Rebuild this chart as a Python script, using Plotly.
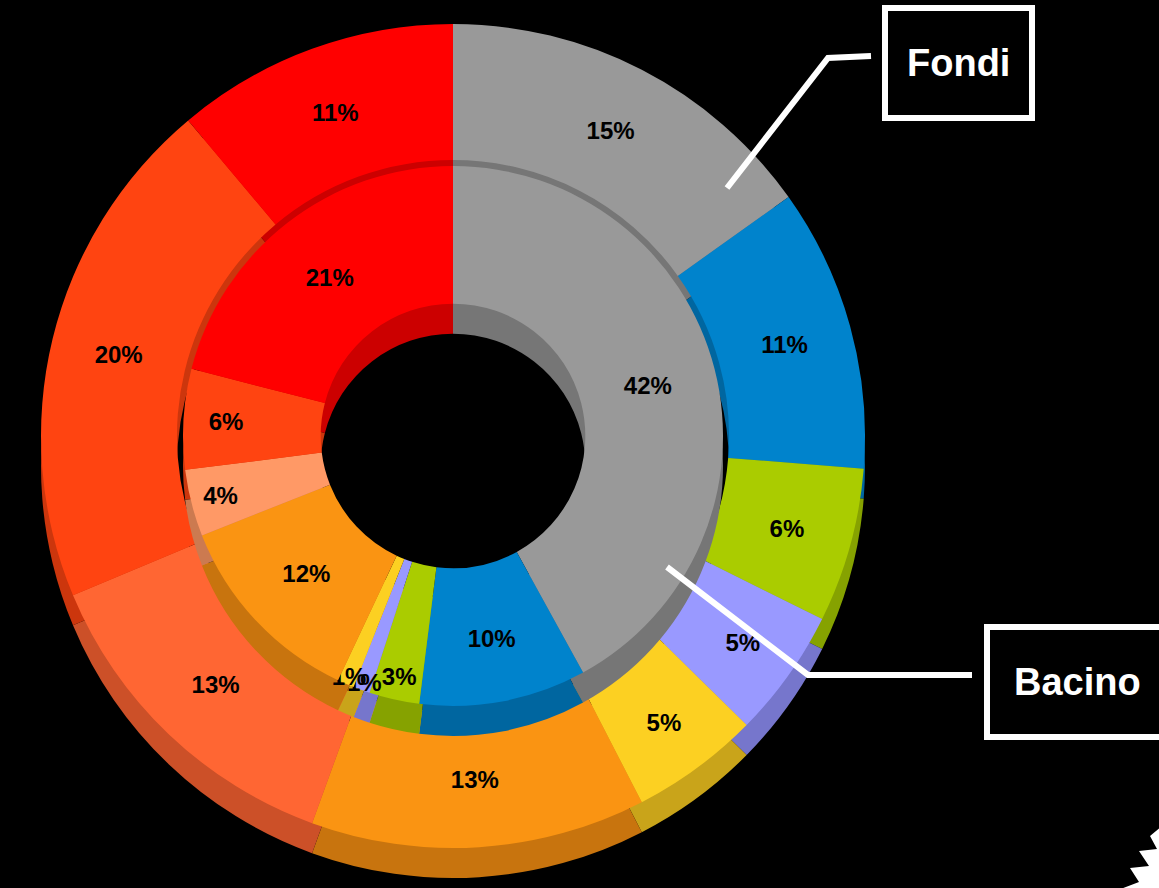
import plotly.graph_objects as go

W, H = 1159, 888

# ---- data ----
outer_labels = ["Grigio", "Blu", "Verde", "Lavanda", "Giallo", "Arancio", "Corallo", "Rosso-arancio", "Rosso"]
outer_values = [15, 11, 6, 5, 5, 13, 13, 20, 11]
inner_labels = ["Grigio", "Blu", "Verde", "Lavanda", "Giallo", "Arancio", "Salmone", "Rosso-arancio", "Rosso"]
inner_values = [42, 10, 3, 1, 1, 12, 4, 6, 21]

outer_colors = ["#999999", "#0083CC", "#AACC00", "#9999FF", "#FCD022", "#FA9412", "#FF6633", "#FF4411", "#FF0000"]
outer_side = ["#767676", "#0066A0", "#86A200", "#7676CC", "#C9A41A", "#C8740E", "#CC5028", "#CC360D", "#CC0000"]
inner_colors = ["#999999", "#0083CC", "#AACC00", "#9999FF", "#FCD022", "#FA9412", "#FF9966", "#FF4411", "#FF0000"]
inner_side = ["#767676", "#0066A0", "#86A200", "#7676CC", "#C9A41A", "#C8740E", "#CC7A50", "#CC360D", "#CC0000"]


def dom(cx, cy, r):
    return dict(x=[(cx - r) / W, (cx + r) / W], y=[1 - (cy + r) / H, 1 - (cy - r) / H])


CX, CY = 453, 436
R_OUT = 412
R_IN = 270
DEPTH = 30

LABEL_FONT = dict(family="Liberation Sans, Arial", size=24, color="black")

fig = go.Figure()

common = dict(sort=False, direction="clockwise", rotation=0, hoverinfo="skip", showlegend=False)

# outer ring side (3D wall)
fig.add_trace(go.Pie(labels=outer_labels, values=outer_values, hole=0.67,
                     domain=dom(CX, CY + DEPTH, R_OUT), textinfo="none",
                     marker=dict(colors=outer_side, line=dict(width=0)), **common))
# outer ring top
fig.add_trace(go.Pie(labels=outer_labels, values=outer_values, hole=0.67,
                     domain=dom(CX, CY, R_OUT),
                     texttemplate="<b>%{value}%</b>", textposition="inside",
                     insidetextorientation="horizontal", textfont=LABEL_FONT,
                     marker=dict(colors=outer_colors, line=dict(width=0)), **common))
# inner ring side
fig.add_trace(go.Pie(labels=inner_labels, values=inner_values, hole=0.49,
                     domain=dom(CX, CY + DEPTH, R_IN), textinfo="none",
                     marker=dict(colors=inner_side, line=dict(width=0)), **common))
# inner ring top
fig.add_trace(go.Pie(labels=inner_labels, values=inner_values, hole=0.49,
                     domain=dom(CX, CY, R_IN),
                     texttemplate="<b>%{value}%</b>", textposition="inside",
                     insidetextorientation="horizontal", textfont=LABEL_FONT,
                     marker=dict(colors=inner_colors, line=dict(width=0)), **common))


def px(x, y):
    return x / W, 1 - y / H


shapes = []
# Fondi box and leader
x0, y0 = px(885, 118); x1, y1 = px(1032, 8)
shapes.append(dict(type="rect", xref="paper", yref="paper", x0=x0, y0=y0, x1=x1, y1=y1,
                   line=dict(color="white", width=6), fillcolor="black"))
pts = [px(727, 188), px(828, 58), px(871, 56)]
shapes.append(dict(type="path", xref="paper", yref="paper",
                   path="M {} {} L {} {} L {} {}".format(*[c for p in pts for c in p]),
                   line=dict(color="white", width=6)))
# Bacino box and leader
x0, y0 = px(987, 737); x1, y1 = px(1175, 627)
shapes.append(dict(type="rect", xref="paper", yref="paper", x0=x0, y0=y0, x1=x1, y1=y1,
                   line=dict(color="white", width=6), fillcolor="black"))
pts = [px(667, 567), px(808, 675), px(972, 675)]
shapes.append(dict(type="path", xref="paper", yref="paper",
                   path="M {} {} L {} {} L {} {}".format(*[c for p in pts for c in p]),
                   line=dict(color="white", width=6)))
# decorative burst at bottom-right corner
burst = [(1162, 826), (1150, 836), (1157, 849), (1139, 851), (1149, 866), (1130, 868),
         (1139, 882), (1118, 890), (1162, 890)]
bp = [px(*p) for p in burst]
path = "M " + " L ".join("{} {}".format(a, b) for a, b in bp) + " Z"
shapes.append(dict(type="path", xref="paper", yref="paper", path=path,
                   fillcolor="white", line=dict(width=0)))

annotations = [
    dict(x=958 / W, y=1 - 63 / H, xref="paper", yref="paper", text="<b>Fondi</b>", showarrow=False,
         font=dict(family="Liberation Sans, Arial", size=38, color="white"), xanchor="center", yanchor="middle"),
    dict(x=1077 / W, y=1 - 682 / H, xref="paper", yref="paper", text="<b>Bacino</b>", showarrow=False,
         font=dict(family="Liberation Sans, Arial", size=38, color="white"), xanchor="center", yanchor="middle"),
]

fig.update_layout(width=W, height=H, margin=dict(l=0, r=0, t=0, b=0),
                  paper_bgcolor="black", plot_bgcolor="black",
                  shapes=shapes, annotations=annotations,
                  uniformtext=dict(minsize=24, mode="show"), showlegend=False)

fig.write_html("out.html", config={"displayModeBar": False},
               post_script="document.body.style.margin='0';document.body.style.background='black';")
